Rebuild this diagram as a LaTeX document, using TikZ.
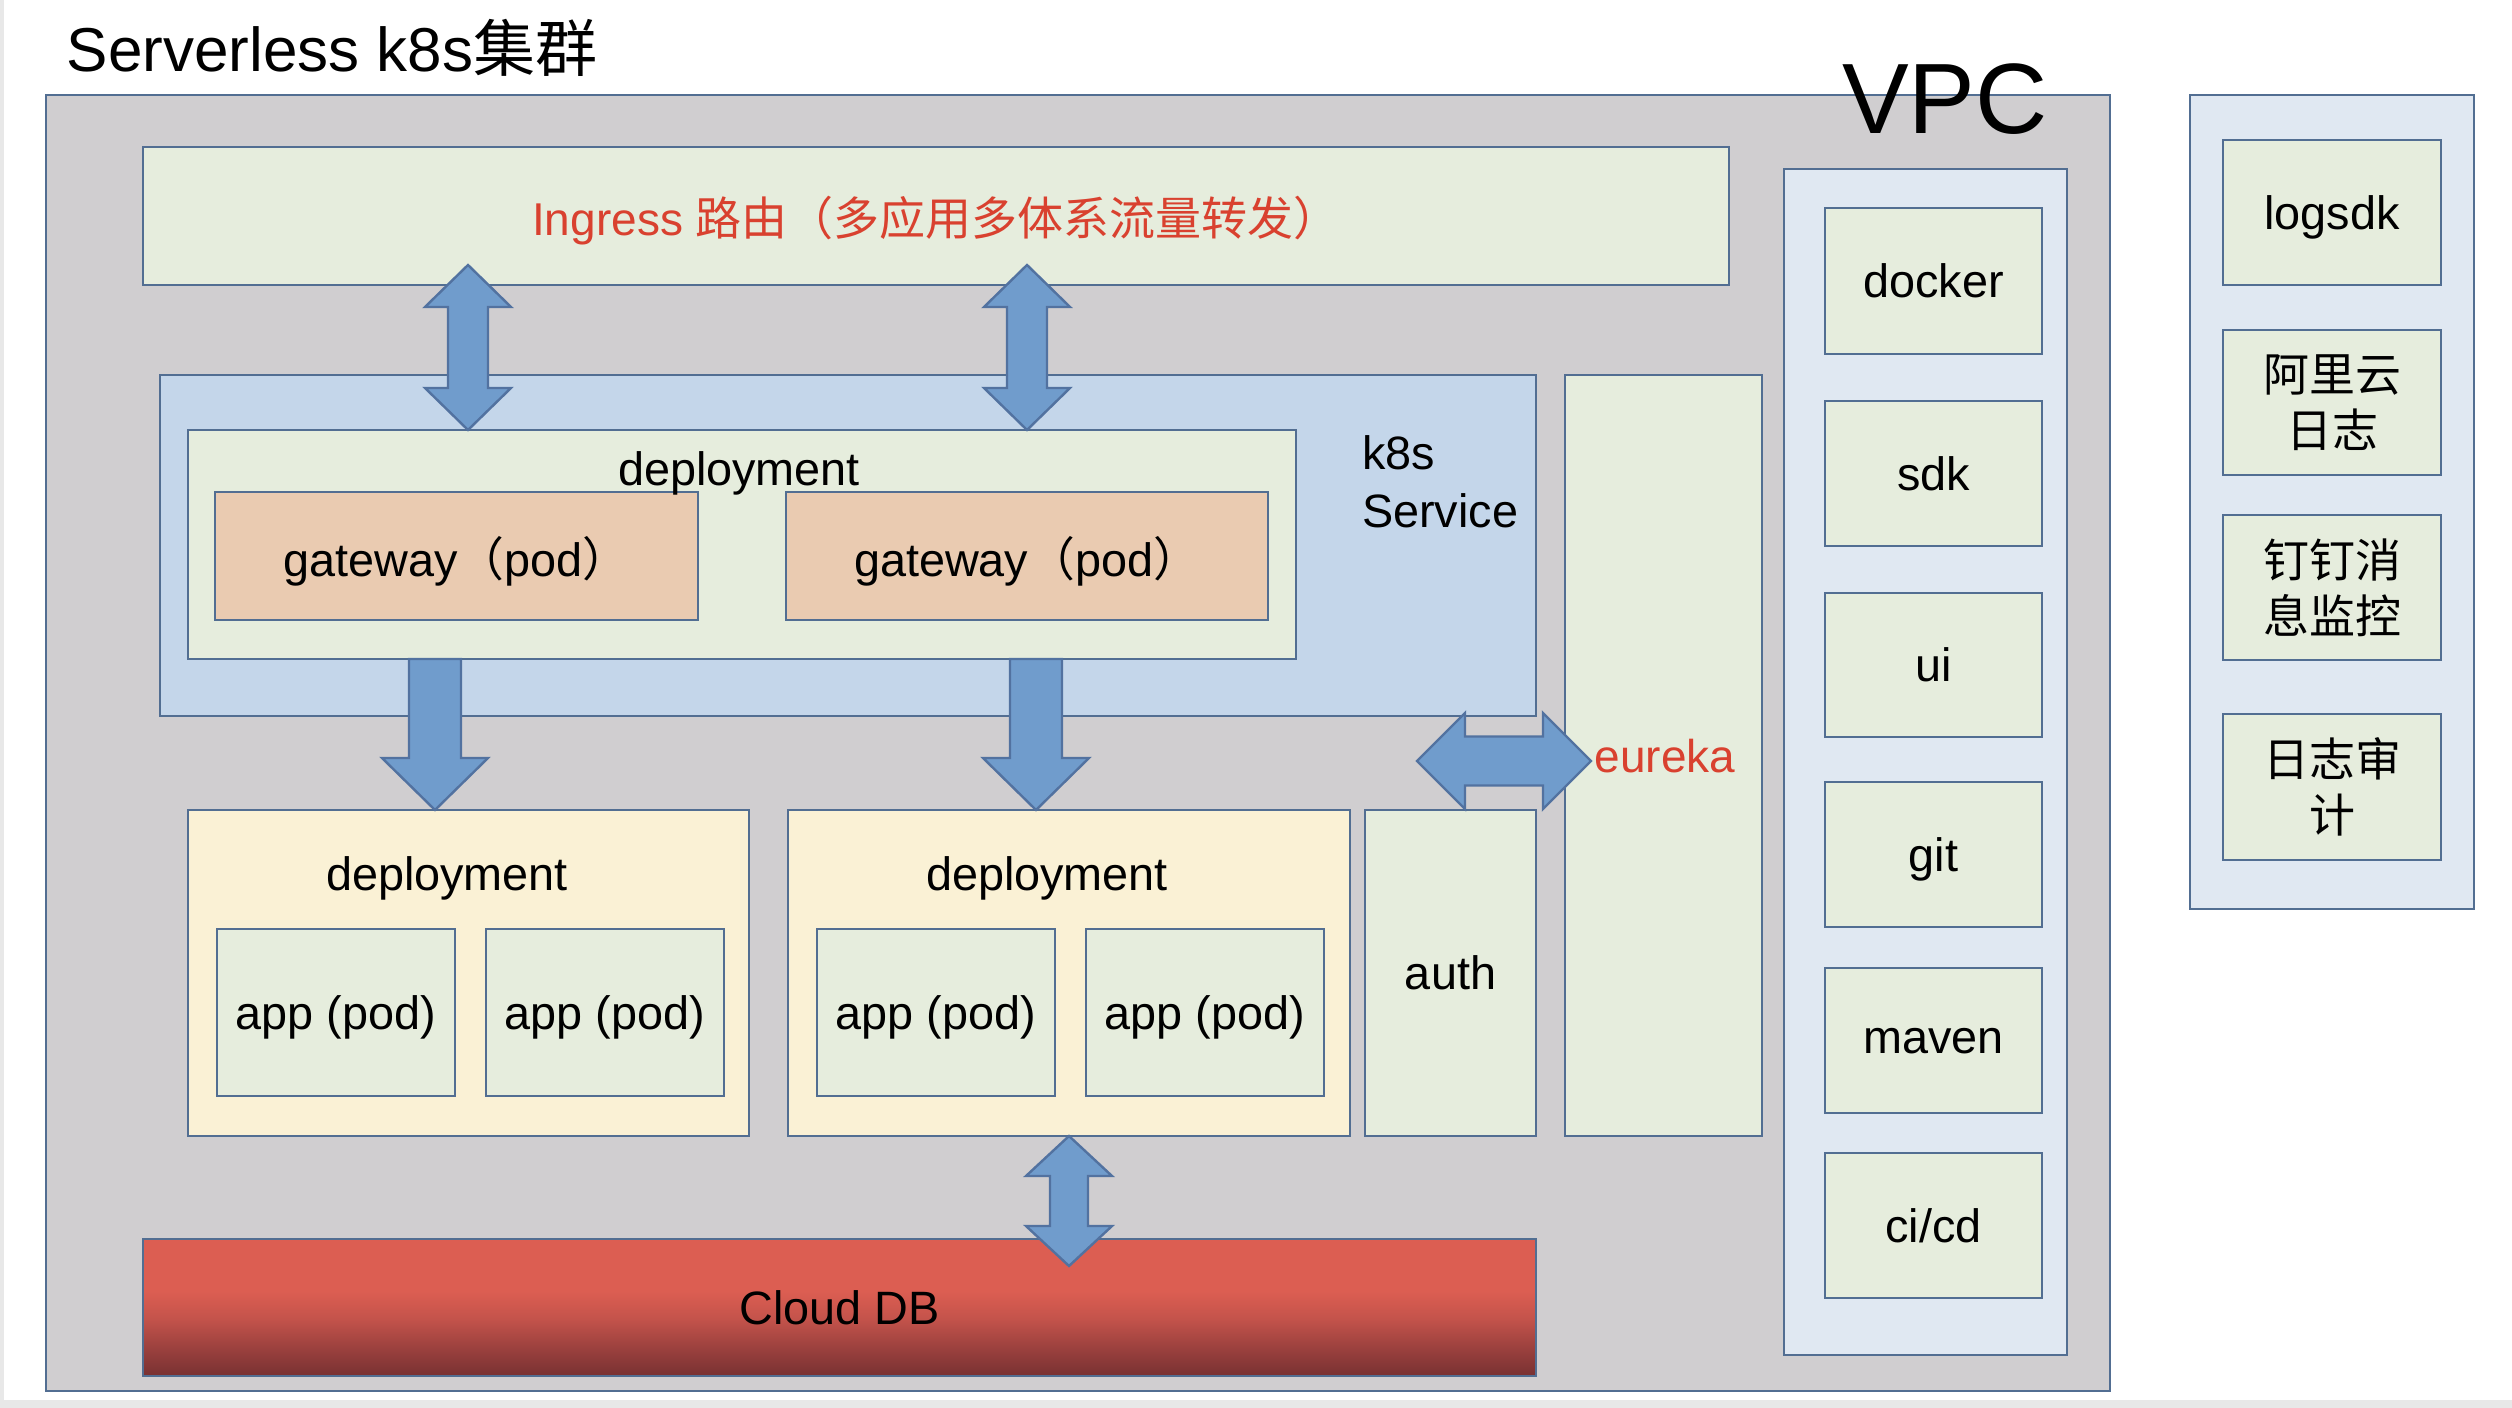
\documentclass[tikz,border=0pt]{standalone}
\usepackage{fontspec}
\setmainfont{Liberation Sans}
\newfontfamily\cjk{Noto Sans CJK SC}
\usetikzlibrary{calc}
\definecolor{graybg}{RGB}{208,206,208}
\definecolor{bordercol}{RGB}{82,110,146}
\definecolor{greenfill}{RGB}{230,237,221}
\definecolor{bluefill}{RGB}{196,214,234}
\definecolor{peachfill}{RGB}{234,203,177}
\definecolor{yellowfill}{RGB}{250,241,213}
\definecolor{lightblue}{RGB}{224,232,242}
\definecolor{redtext}{RGB}{217,65,47}
\definecolor{arrowfill}{RGB}{112,156,204}
\definecolor{arrowdraw}{RGB}{82,114,160}
\definecolor{edgegray}{RGB}{232,232,232}
\definecolor{dbtop}{RGB}{220,94,82}
\definecolor{dbm1}{RGB}{196,83,75}
\definecolor{dbm2}{RGB}{158,66,63}
\definecolor{dbbot}{RGB}{120,49,50}
\pgfdeclareverticalshading{dbshade}{100bp}{color(0bp)=(dbbot); color(25bp)=(dbbot); color(36bp)=(dbm2); color(46bp)=(dbm1); color(56bp)=(dbtop); color(100bp)=(dbtop)}
\newcommand\myfontbody{\fontsize{11.7}{14.5}\selectfont}
\newcommand\myfontcjk{\cjk\fontsize{11.5}{14}\selectfont}
\newcommand\bx[7]{\node[#1,minimum width={(#5-#3)*0.25pt},minimum height={(#6-#4)*0.25pt}] (#2) at ({(#3+#5)/2},{(#4+#6)/2}) {#7};}
\newcommand\vdbl[5]{\draw[blockarrow] let \p1=(#1), \p2=(#2) in
 (\p1) -- (\x1+#3*0.25pt,\y1-#5*0.25pt) -- (\x1+#4*0.25pt,\y1-#5*0.25pt)
 -- (\x1+#4*0.25pt,\y2+#5*0.25pt) -- (\x1+#3*0.25pt,\y2+#5*0.25pt) -- (\p2)
 -- (\x1-#3*0.25pt,\y2+#5*0.25pt) -- (\x1-#4*0.25pt,\y2+#5*0.25pt)
 -- (\x1-#4*0.25pt,\y1-#5*0.25pt) -- (\x1-#3*0.25pt,\y1-#5*0.25pt) -- cycle;}
\newcommand\vdown[5]{\draw[blockarrow] let \p1=(#1), \p2=(#2) in
 (\x1-#4*0.25pt,\y1) -- (\x1+#4*0.25pt,\y1) -- (\x1+#4*0.25pt,\y2+#5*0.25pt)
 -- (\x1+#3*0.25pt,\y2+#5*0.25pt) -- (\p2) -- (\x1-#3*0.25pt,\y2+#5*0.25pt)
 -- (\x1-#4*0.25pt,\y2+#5*0.25pt) -- cycle;}
\newcommand\hdbl[5]{\draw[blockarrow] let \p1=(#1), \p2=(#2) in
 (\p1) -- (\x1+#5*0.25pt,\y1+#3*0.25pt) -- (\x1+#5*0.25pt,\y1+#4*0.25pt)
 -- (\x2-#5*0.25pt,\y1+#4*0.25pt) -- (\x2-#5*0.25pt,\y1+#3*0.25pt) -- (\p2)
 -- (\x2-#5*0.25pt,\y1-#3*0.25pt) -- (\x2-#5*0.25pt,\y1-#4*0.25pt)
 -- (\x1+#5*0.25pt,\y1-#4*0.25pt) -- (\x1+#5*0.25pt,\y1-#3*0.25pt) -- cycle;}
\begin{document}
\begin{tikzpicture}[x=0.25pt,y=-0.25pt,
  box/.style={draw=bordercol,line width=0.7pt,inner sep=0pt,outer sep=0pt,rectangle,font=\myfontbody,align=center},
  tbox/.style={box,text depth=0pt},
  greenbox/.style={tbox,fill=greenfill},
  bluebox/.style={box,fill=bluefill},
  peachbox/.style={tbox,fill=peachfill},
  yellowbox/.style={box,fill=yellowfill},
  lbbox/.style={box,fill=lightblue},
  graybox/.style={box,fill=graybg},
  cjkbox/.style={box,fill=greenfill,font=\myfontcjk},
  lbl/.style={inner sep=0pt,outer sep=0pt,font=\myfontbody,align=left},
  blockarrow/.style={fill=arrowfill,draw=arrowdraw,line width=0.6pt,line join=miter}]
\useasboundingbox (0,0) rectangle (2512,1408);
\fill[white] (0,0) rectangle (2512,1408);
\fill[edgegray] (0,0) rectangle (4,1408);
\fill[edgegray] (0,1400) rectangle (2512,1408);

\node[inner sep=0pt,anchor=base west,font=\fontsize{15.5}{18}\selectfont] (title) at (66,72) {Serverless k8s{\cjk 集群}};

\bx{graybox}{outer}{46}{95}{2110}{1391}{}
\bx{greenbox}{ingress}{143}{147}{1729}{285}{\textcolor{redtext}{\fontsize{11.5}{13}\selectfont Ingress {\cjk 路由（多应用多体系流量转发）}}}
\bx{bluebox}{svc}{160}{375}{1536}{716}{}
\bx{greenbox}{dtop}{188}{430}{1296}{659}{}
\bx{peachbox}{gw1}{215}{492}{698}{620}{gateway{\cjk（}pod{\cjk）}}
\bx{peachbox}{gw2}{786}{492}{1268}{620}{gateway{\cjk（}pod{\cjk）}}
\node[lbl,anchor=base] (dtoplbl) at (739,486) {deployment};
\node[lbl,anchor=base west] (svclbl) at (1362,528) {k8s\\Service};

\bx{greenbox}{eureka}{1565}{375}{1762}{1136}{}
\bx{yellowbox}{dep1}{188}{810}{749}{1136}{}
\node[lbl,anchor=base] (dep1lbl) at (447,891) {deployment};
\bx{greenbox}{app11}{217}{929}{455}{1096}{app (pod)}
\bx{greenbox}{app12}{486}{929}{724}{1096}{app (pod)}
\bx{yellowbox}{dep2}{788}{810}{1350}{1136}{}
\node[lbl,anchor=base] (dep2lbl) at (1047,891) {deployment};
\bx{greenbox}{app21}{817}{929}{1055}{1096}{app (pod)}
\bx{greenbox}{app22}{1086}{929}{1324}{1096}{app (pod)}
\bx{greenbox}{auth}{1365}{810}{1536}{1136}{auth}
\bx{tbox,shading=dbshade}{db}{143}{1239}{1536}{1376}{Cloud DB}

\bx{lbbox}{vpc}{1784}{169}{2067}{1355}{}
\bx{greenbox}{docker}{1825}{208}{2042}{354}{docker}
\bx{greenbox}{sdk}{1825}{401}{2042}{546}{sdk}
\bx{greenbox}{ui}{1825}{593}{2042}{737}{ui}
\bx{greenbox}{git}{1825}{782}{2042}{927}{git}
\bx{greenbox}{maven}{1825}{968}{2042}{1113}{maven}
\bx{greenbox}{cicd}{1825}{1153}{2042}{1298}{ci/cd}

\bx{lbbox}{ext}{2190}{95}{2474}{909}{}
\bx{greenbox}{logsdk}{2223}{140}{2441}{285}{logsdk}
\bx{cjkbox}{aliyun}{2223}{330}{2441}{475}{阿里云\\日志}
\bx{cjkbox}{dingding}{2223}{515}{2441}{660}{钉钉消\\息监控}
\bx{cjkbox}{audit}{2223}{714}{2441}{860}{日志审\\计}

% arrows
\coordinate (a1t) at (468,265);
\coordinate (a1b) at (a1t |- dtop.north);
\coordinate (a2t) at (1027,265);
\coordinate (a2b) at (a2t |- dtop.north);
\coordinate (d1x) at (435,0);
\coordinate (d1t) at (d1x |- dtop.south);
\coordinate (d1b) at (d1x |- dep1.north);
\coordinate (d2x) at (1036,0);
\coordinate (d2t) at (d2x |- dtop.south);
\coordinate (d2b) at (d2x |- dep2.north);
\coordinate (hl) at (1417,761);
\coordinate (hr) at (1591,761);
\coordinate (dbx) at (1069,0);
\coordinate (dbt) at (dbx |- dep2.south);
\coordinate (dbb) at (1069,1266);
\vdbl{a1t}{a1b}{43}{20}{42}
\vdbl{a2t}{a2b}{43}{20}{42}
\vdown{d1t}{d1b}{53}{26}{52}
\vdown{d2t}{d2b}{53}{26}{52}
\hdbl{hl}{hr}{48}{24.5}{48}
\vdbl{dbt}{dbb}{43}{19}{40}

\node[inner sep=0pt,anchor=base west,text=redtext,font=\fontsize{11.5}{14}\selectfont] (eurekalbl) at (1594,773) {eureka};
\node[inner sep=0pt,anchor=base,font=\fontsize{25}{30}\selectfont] (vpclbl) at (1945,134) {VPC};
\end{tikzpicture}
\end{document}
